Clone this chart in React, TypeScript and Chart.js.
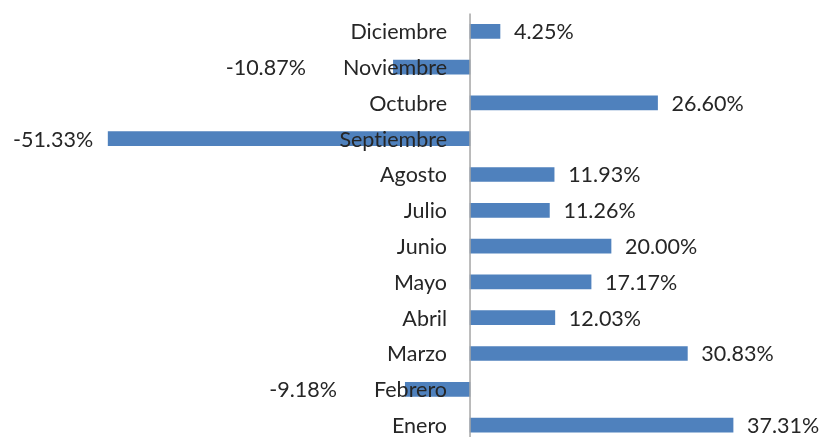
import React, { useEffect, useRef } from "react";
import { Chart, registerables } from "chart.js";

Chart.register(...registerables);

const months = ["Diciembre", "Noviembre", "Octubre", "Septiembre", "Agosto", "Julio", "Junio", "Mayo", "Abril", "Marzo", "Febrero", "Enero"];
const changes = [4.25, -10.87, 26.6, -51.33, 11.93, 11.26, 20.0, 17.17, 12.03, 30.83, -9.18, 37.31];

const FONT = "Lato, 'Open Sans', sans-serif";

const labelsPlugin = {
  id: "customLabels",
  afterDatasetsDraw(chart: any) {
    const { ctx, chartArea } = chart;
    const xs = chart.scales.x;
    const ys = chart.scales.y;
    const zero = xs.getPixelForValue(0);
    ctx.save();
    // axis line
    ctx.strokeStyle = "#A6A6A6";
    ctx.lineWidth = 1.5;
    ctx.beginPath();
    ctx.moveTo(zero, chartArea.top);
    ctx.lineTo(zero, chartArea.bottom);
    ctx.stroke();
    ctx.font = `21.5px ${FONT}`;
    try {
      (ctx as any).letterSpacing = "0.01px";
    } catch (e) {}
    ctx.fillStyle = "#262626";
    ctx.textBaseline = "middle";
    months.forEach((m, i) => {
      const y = ys.getPixelForValue(i) + 1;
      ctx.textAlign = "right";
      const catRight = zero - 23;
      ctx.fillText(m, catRight, y);
      const catLeft = catRight - ctx.measureText(m).width;
      const v = changes[i];
      const end = xs.getPixelForValue(v);
      const txt = v.toFixed(2) + "%";
      if (v >= 0) {
        ctx.textAlign = "left";
        ctx.fillText(txt, end + 14, y);
      } else {
        ctx.textAlign = "right";
        ctx.fillText(txt, Math.min(end - 15, catLeft - 37), y);
      }
    });
    ctx.restore();
  },
};

export default function App() {
  const ref = useRef<HTMLCanvasElement>(null);
  useEffect(() => {
    const chart = new Chart(ref.current!, {
      type: "bar",
      data: {
        labels: months,
        datasets: [
          {
            data: changes,
            backgroundColor: "#4F81BD",
            borderWidth: 0,
            barThickness: 14,
          },
        ],
      },
      options: {
        indexAxis: "y",
        animation: false,
        responsive: false,
        maintainAspectRatio: false,
        layout: { padding: { top: 13.4, bottom: 0, left: 0, right: 0 } },
        plugins: { legend: { display: false }, tooltip: { enabled: false } },
        scales: {
          x: { display: false, min: -66.67, max: 50.21 },
          y: { display: false, offset: true },
        },
      },
      plugins: [labelsPlugin],
    });
    return () => chart.destroy();
  }, []);
  return (
    <div style={{ position: "fixed", left: 0, top: 0, width: 824, height: 443, background: "#fff" }}>
      <canvas ref={ref} width={824} height={443} style={{ width: 824, height: 443 }} />
    </div>
  );
}
